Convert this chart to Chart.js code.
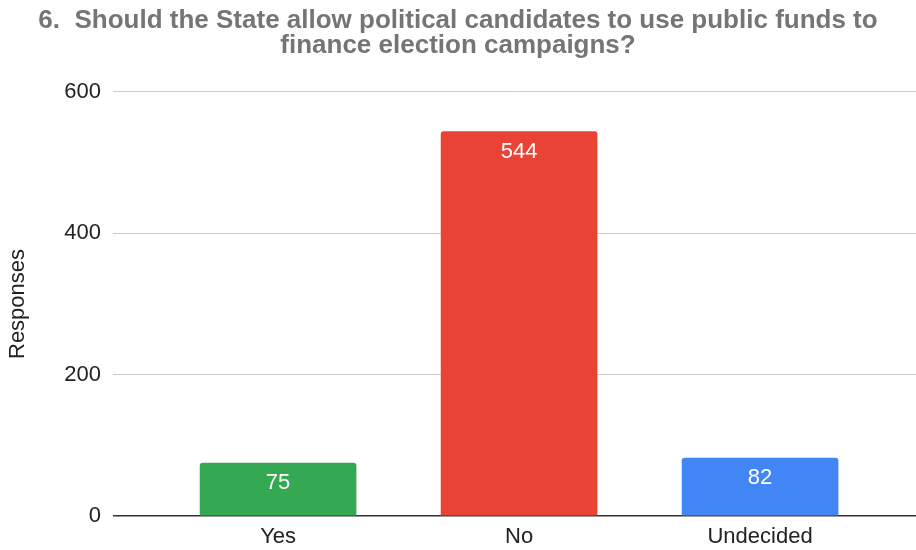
<!DOCTYPE html>
<html>
<head>
<meta charset="utf-8">
<script src="https://cdn.jsdelivr.net/npm/chart.js@4/dist/chart.umd.min.js"></script>
<style>
  html, body { margin: 0; padding: 0; background: #fff; }
</style>
</head>
<body>
<canvas id="responsesChart" width="916" height="550"></canvas>
<script>
const titleLines = ['6.  Should the State allow political candidates to use public funds to', 'finance election campaigns?'];
const categories = ['Yes', 'No', 'Undecided'];
const responses = [75, 544, 82];
const barColors = ['#34a853', '#e84335', '#4285f4'];
const yAxisTitle = 'Responses';
const yMax = 600;
const yStep = 200;

const fontFamily = "'Liberation Sans', Arial, sans-serif";

// white value labels just under the top of each bar
const valueLabels = {
    id: 'valueLabels',
    afterDatasetsDraw(chart) {
        const ctx = chart.ctx;
        const meta = chart.getDatasetMeta(0);
        ctx.save();
        ctx.fillStyle = '#ffffff';
        ctx.font = `22px ${fontFamily}`;
        ctx.textAlign = 'center';
        ctx.textBaseline = 'middle';
        meta.data.forEach((bar, i) => {
            ctx.fillText(String(responses[i]), bar.x, bar.y + 20);
        });
        ctx.restore();
    }
};

const ctx = document.getElementById('responsesChart').getContext('2d');
new Chart(ctx, {
    type: 'bar',
    data: {
        datasets: [{
            label: yAxisTitle,
            data: responses.map((v, i) => ({ x: i, y: v })),
            backgroundColor: barColors,
            borderRadius: 3,
            borderSkipped: 'start',
            barThickness: 156
        }]
    },
    options: {
        responsive: false,
        animation: false,
        layout: { padding: { left: 0, right: 0, top: 0, bottom: 2 } },
        plugins: {
            legend: { display: false },
            tooltip: { enabled: false },
            title: {
                display: true,
                text: titleLines,
                color: '#757575',
                font: { family: fontFamily, size: 26, weight: 'bold', lineHeight: 0.98 },
                padding: { top: 8, bottom: 33 }
            }
        },
        scales: {
            x: {
                type: 'linear',
                offset: false,
                min: -0.685,
                max: 2.647,
                grid: { display: false, drawTicks: false },
                border: { display: false },
                afterBuildTicks: scale => {
                    scale.ticks = categories.map((c, i) => ({ value: i }));
                },
                afterFit: scale => { scale.height = 32; },
                ticks: {
                    color: '#222222',
                    font: { family: fontFamily, size: 22 },
                    padding: 8,
                    autoSkip: false,
                    maxRotation: 0,
                    callback: value => categories[value]
                }
            },
            y: {
                min: 0,
                max: yMax,
                afterFit: scale => { scale.width = 113; },
                border: { display: false },
                grid: {
                    drawTicks: false,
                    color: c => c.tick && c.tick.value === 0 ? '#333333' : '#cccccc',
                    lineWidth: c => c.tick && c.tick.value === 0 ? 1.5 : 1
                },
                ticks: {
                    stepSize: yStep,
                    color: '#222222',
                    font: { family: fontFamily, size: 22 },
                    padding: 12
                },
                title: {
                    display: true,
                    text: yAxisTitle,
                    color: '#222222',
                    font: { family: fontFamily, size: 22 },
                    padding: { top: 5, bottom: 0 }
                }
            }
        }
    },
    plugins: [valueLabels]
});
</script>
</body>
</html>
